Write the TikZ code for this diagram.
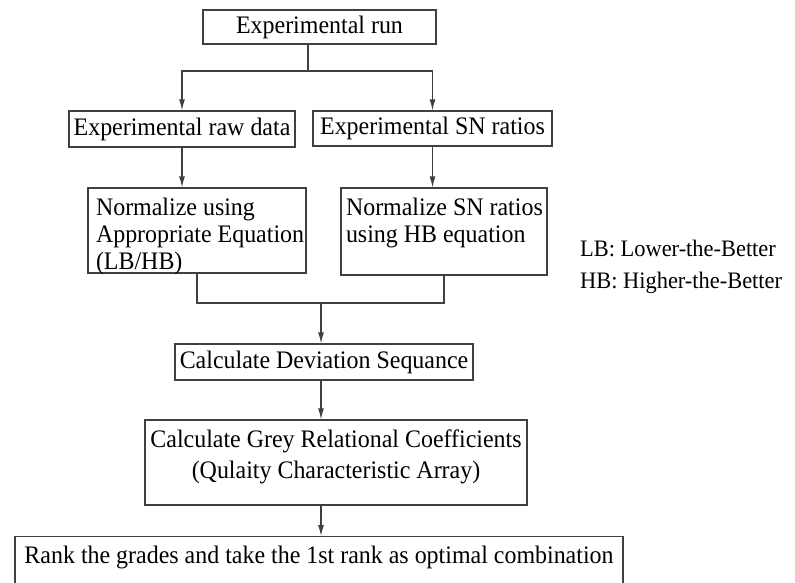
\documentclass[tikz,border=0pt]{standalone}
\usepackage{fontspec}
\setmainfont{Liberation Serif}[FakeStretch=0.95]
\usetikzlibrary{arrows.meta}
\tikzset{
  flowbox/.style={draw=black!75,line width=1.2pt,inner sep=0pt},
  link/.style={draw=black!75,line width=1.2pt},
  arr/.style={link,-{Latex[length=11pt,width=6pt]}},
  note/.style={anchor=west,inner sep=0pt,font=\fontsize{23.6}{26}\selectfont},
}

\begin{document}
\begin{tikzpicture}[x=1pt,y=-1pt,font=\fontsize{25.2}{27}\selectfont]
      \useasboundingbox (0,0) rectangle (795,582);
      \clip (0,0) rectangle (795,582);
      \node[flowbox,minimum width=233pt,minimum height=34pt] (run) at (319.5,27) {Experimental run};
      \node[flowbox,minimum width=226pt,minimum height=36pt] (raw) at (182,129) {Experimental raw data};
      \node[flowbox,minimum width=239pt,minimum height=35pt] (sn) at (432.5,128.5) {Experimental SN ratios};
      \node[flowbox,minimum width=218pt,minimum height=85pt] (norm1) at (197,230.5)
        {\parbox[c][65pt][t]{202pt}{\raggedright Normalize using\\\mbox{Appropriate Equation}\\(LB/HB)}};
      \node[flowbox,minimum width=206pt,minimum height=87pt] (norm2) at (444,231.5)
        {\parbox[c][67pt][t]{196pt}{\raggedright \mbox{Normalize SN ratios}\\using HB equation}};
      \node[flowbox,minimum width=298pt,minimum height=36pt] (dev) at (324,362) {Calculate Deviation Sequance};
      \node[flowbox,minimum width=382pt,minimum height=85pt,font=\fontsize{25.2}{31}\selectfont] (grey) at (336,462.5)
        {\parbox[c][65pt][t]{372pt}{\centering Calculate Grey Relational Coefficients\\(Qulaity Characteristic Array)}};
      \node[flowbox,anchor=north,minimum width=608pt,inner ysep=10pt,text height=17pt,text depth=25pt] (rank) at (319,536)
        {Rank the grades and take the 1st rank as optimal combination};
      % abbreviations
      \node[note] (lb) at (580,248) {LB: Lower-the-Better};
      \node[note] (hb) at (580,283) {HB: Higher-the-Better};
      % connectors
      \coordinate (j1) at (308,71);
      \coordinate (j2) at (321,303);
      \draw[link] (j1 |- run.south) -- (j1);
      \draw[arr] (j1) -| (raw.north);
      \draw[arr] (j1) -| (sn.north);
      \draw[arr] (raw.south) -- (raw.south |- norm1.north);
      \draw[arr] (sn.south) -- (sn.south |- norm2.north);
      \draw[link] (norm1.south) |- (norm2.south |- j2) -- (norm2.south);
      \draw[arr] (j2) -- (j2 |- dev.north);
      \draw[arr] (j2 |- dev.south) -- (j2 |- grey.north);
      \draw[arr] (j2 |- grey.south) -- (j2 |- rank.north);
\end{tikzpicture}
\end{document}
